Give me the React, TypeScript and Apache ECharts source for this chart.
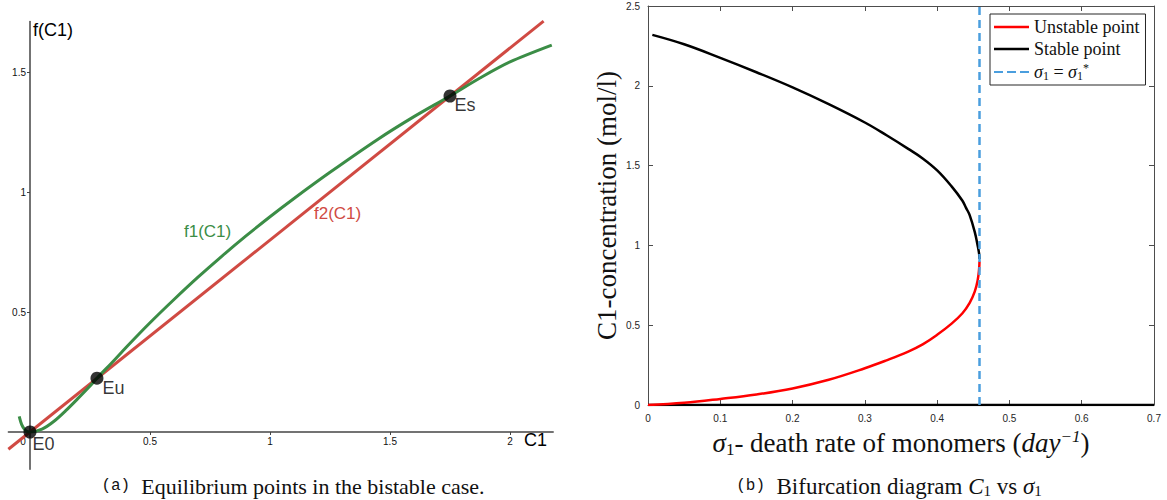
import React, { useEffect, useRef } from "react";
import * as echarts from "echarts";

// ---------- Panel (a): equilibrium points ----------
const f1Curve: [number, number][] = [
  [-0.045, 0.065], [-0.035, 0.032], [-0.022, 0.01], [-0.01, 0.001], [0, 0],
  [0.05, 0.012], [0.1, 0.045], [0.15, 0.09], [0.2, 0.14], [0.25, 0.192],
  [0.279, 0.224], [0.35, 0.298], [0.4, 0.352], [0.5, 0.455], [0.6, 0.552],
  [0.7, 0.645], [0.8, 0.733], [0.9, 0.817], [1.0, 0.897], [1.1, 0.973],
  [1.25, 1.082], [1.45, 1.22], [1.6, 1.314], [1.75, 1.4], [1.875, 1.475],
  [2.0, 1.542], [2.174, 1.612],
];
const f2Line: [number, number][] = [[-0.09, -0.072], [2.14, 1.712]];
const equilibria: { name: string; value: [number, number] }[] = [
  { name: "E0", value: [0, 0] },
  { name: "Eu", value: [0.279, 0.224] },
  { name: "Es", value: [1.75, 1.4] },
];
const aXTicks = [0.5, 1, 1.5, 2];
const aXLabels = [0, 0.5, 1, 1.5, 2];
const aYTicks = [0.5, 1, 1.5];

// ---------- Panel (b): bifurcation diagram ----------
const stablePoint: [number, number][] = [
  [0.006, 2.319], [0.05, 2.26], [0.1, 2.175], [0.15, 2.085], [0.2, 1.99],
  [0.25, 1.885], [0.3, 1.77], [0.33, 1.69], [0.36, 1.605], [0.38, 1.545],
  [0.4, 1.47], [0.42, 1.37], [0.435, 1.28], [0.44, 1.235], [0.445, 1.19],
  [0.452, 1.085], [0.456, 1.0], [0.458, 0.95], [0.4586, 0.915],
];
const stableZero: [number, number][] = [[0, 0], [0.7, 0]];
const unstablePoint: [number, number][] = [
  [0, 0], [0.05, 0.014], [0.1, 0.038], [0.15, 0.066], [0.2, 0.104],
  [0.25, 0.158], [0.3, 0.23], [0.33, 0.28], [0.36, 0.335], [0.38, 0.38],
  [0.4, 0.44], [0.42, 0.51], [0.435, 0.575], [0.445, 0.64], [0.452, 0.71],
  [0.456, 0.78], [0.458, 0.85], [0.4586, 0.9],
];
const sigmaStar = 0.4586;
const sigmaLine: [number, number][] = [[sigmaStar, 0], [sigmaStar, 2.5]];

const SERIF = "'Liberation Serif', 'DejaVu Serif', serif";
const SANS = "'Liberation Sans', Arial, sans-serif";
const MONO = "'Liberation Mono', 'DejaVu Sans Mono', monospace";
const GREEN = "#3b8d46";
const RED_A = "#d04a43";
const BLUE = "#4a9ede";

export default function App() {
  const ref = useRef<HTMLDivElement>(null);
  useEffect(() => {
    document.body.style.margin = "0";
    if (!ref.current) return;
    const chart = echarts.init(ref.current, undefined, { renderer: "svg" });
    const axisGrayB = "#4d4d4d";
    const labelB = { color: "#262626", fontFamily: SANS, fontSize: 10 };
    const NS = 27;
    const serifRich = {
      i: { fontFamily: SERIF, fontStyle: "italic", fontSize: NS, color: "#111" },
      sub: { fontFamily: SERIF, fontSize: 17, color: "#111", padding: [12, 0, 0, 0] },
      sup: { fontFamily: SERIF, fontStyle: "italic", fontSize: 17, color: "#111", padding: [0, 0, 14, 0] },
      n: { fontFamily: SERIF, fontSize: NS, color: "#111" },
    };
    const aTickStyle = { color: "#444", width: 1 };
    const option: any = {
      animation: false,
      backgroundColor: "#ffffff",
      grid: [
        // panel (a) full extent: axis lines crossing at zero
        { left: 8.4, top: 21.6, width: 544.8, height: 447.6, outerBoundsMode: "none", containLabel: false },
        // panel (b)
        { left: 648, top: 6, width: 506, height: 399, outerBoundsMode: "none", containLabel: false },
        // panel (a) positive quadrant: ticks and tick labels along the zero lines
        { left: 30, top: 21.6, width: 523.2, height: 410.4, outerBoundsMode: "none", containLabel: false },
      ],
      xAxis: [
        {
          type: "value", gridIndex: 0, min: -0.09, max: 2.18,
          axisLine: { onZero: true, lineStyle: { color: "#444", width: 1.5 } },
          axisTick: { show: false }, axisLabel: { show: false }, splitLine: { show: false },
        },
        {
          type: "value", gridIndex: 1, min: 0, max: 0.7, interval: 0.1,
          axisLine: { onZero: false, lineStyle: { color: axisGrayB, width: 1 } },
          axisTick: { inside: true, length: 5, lineStyle: { color: axisGrayB } },
          axisLabel: { ...labelB, margin: 8, formatter: (v: number) => (v === 0 ? "0" : v.toFixed(1)) },
          splitLine: { show: false },
          name: "{i|σ}{sub|1}{n|- death rate of monomers (}{i|day}{sup|−1}{n|)}",
          nameLocation: "middle", nameGap: 22,
          nameTextStyle: { rich: serifRich },
        },
        {
          type: "value", gridIndex: 1, min: 0, max: 0.7, interval: 0.1, position: "top",
          axisLine: { onZero: false, lineStyle: { color: axisGrayB, width: 1 } },
          axisTick: { inside: true, length: 5, lineStyle: { color: axisGrayB } },
          axisLabel: { show: false }, splitLine: { show: false },
        },
        {
          type: "value", gridIndex: 2, min: 0, max: 2.18, position: "bottom",
          axisLine: { show: false, onZero: false },
          axisTick: { show: true, inside: false, length: 3, customValues: aXTicks, lineStyle: aTickStyle },
          axisLabel: {
            customValues: aXLabels, margin: 4, fontSize: 10, color: "#111", fontFamily: SANS,
            formatter: (v: number) => (v === 0 ? "{z|0}" : String(v)),
            rich: { z: { fontSize: 10, fontFamily: SANS, color: "#111", padding: [0, 14, 0, 0] } },
          },
          splitLine: { show: false },
        },
      ],
      yAxis: [
        {
          type: "value", gridIndex: 0, min: -0.155, max: 1.71,
          axisLine: { onZero: true, lineStyle: { color: "#444", width: 1.5 } },
          axisTick: { show: false }, axisLabel: { show: false }, splitLine: { show: false },
        },
        {
          type: "value", gridIndex: 1, min: 0, max: 2.5, interval: 0.5,
          axisLine: { onZero: false, lineStyle: { color: axisGrayB, width: 1 } },
          axisTick: { inside: true, length: 5, lineStyle: { color: axisGrayB } },
          axisLabel: { ...labelB, margin: 8 },
          splitLine: { show: false },
          name: "C1-concentration (mol/l)",
          nameLocation: "middle", nameGap: 28,
          nameTextStyle: { fontFamily: SERIF, fontSize: NS, color: "#111" },
        },
        {
          type: "value", gridIndex: 1, min: 0, max: 2.5, interval: 0.5, position: "right",
          axisLine: { onZero: false, lineStyle: { color: axisGrayB, width: 1 } },
          axisTick: { inside: true, length: 5, lineStyle: { color: axisGrayB } },
          axisLabel: { show: false }, splitLine: { show: false },
        },
        {
          type: "value", gridIndex: 2, min: 0, max: 1.71, position: "left",
          axisLine: { show: false, onZero: false },
          axisTick: { show: true, inside: false, length: 3, customValues: aYTicks, lineStyle: aTickStyle },
          axisLabel: { customValues: aYTicks, margin: 4, fontSize: 10, color: "#111", fontFamily: SANS },
          splitLine: { show: false },
        },
      ],
      legend: {
        data: [
          { name: "Unstable point", icon: "rect" },
          { name: "Stable point", icon: "rect" },
          { name: "sigmaStar", icon: "path://M0 0h9v2h-9zM13 0h9v2h-9zM26 0h9v2h-9z" },
        ],
        orient: "vertical",
        left: 990, top: 14,
        padding: [4, 6, 3, 4],
        itemGap: 4,
        itemWidth: 35, itemHeight: 2.5,
        backgroundColor: "#fff",
        borderColor: "#262626", borderWidth: 1, borderRadius: 0,
        textStyle: {
          fontFamily: SERIF, fontSize: 18, color: "#111", lineHeight: 17,
          rich: {
            i: { fontFamily: SERIF, fontStyle: "italic", fontSize: 18, color: "#111" },
            sub: { fontFamily: SERIF, fontSize: 12, color: "#111", padding: [8, 0, 0, 0] },
            sup: { fontFamily: SERIF, fontSize: 12, color: "#111", padding: [0, 0, 8, 0] },
            n: { fontFamily: SERIF, fontSize: 18, color: "#111" },
          },
        },
        formatter: (name: string) =>
          name === "sigmaStar" ? "{i|σ}{sub|1}{n| = }{i|σ}{sub|1}{sup|*}" : name,
      },
      series: [
        {
          name: "f2(C1)", type: "line", xAxisIndex: 0, yAxisIndex: 0, data: f2Line,
          symbol: "none", clip: false, lineStyle: { color: RED_A, width: 3 }, z: 3,
        },
        {
          name: "f1(C1)", type: "line", xAxisIndex: 0, yAxisIndex: 0, data: f1Curve,
          symbol: "none", smooth: 0.3, clip: false, lineStyle: { color: GREEN, width: 3 }, z: 4,
        },
        {
          name: "equilibria", type: "scatter", xAxisIndex: 0, yAxisIndex: 0,
          data: equilibria.map((e) => ({
            name: e.name, value: e.value,
            label: {
              show: true, formatter: e.name, align: "left", verticalAlign: "top",
              position: e.name === "E0" ? [9, 9] : e.name === "Eu" ? [12, 7] : [11, 6],
              fontFamily: SANS, fontSize: 18, color: "#000",
            },
          })),
          symbol: "circle", symbolSize: 13, itemStyle: { color: "#000" }, z: 6,
        },
        {
          name: "Stable point", type: "line", xAxisIndex: 1, yAxisIndex: 1, data: stableZero,
          symbol: "none", lineStyle: { color: "#000", width: 2.5 }, itemStyle: { color: "#000" }, z: 3,
        },
        {
          name: "Stable point", type: "line", xAxisIndex: 1, yAxisIndex: 1, data: stablePoint,
          symbol: "none", smooth: 0.4, lineStyle: { color: "#000", width: 2.5 }, itemStyle: { color: "#000" }, z: 3,
        },
        {
          name: "Unstable point", type: "line", xAxisIndex: 1, yAxisIndex: 1, data: unstablePoint,
          symbol: "none", smooth: 0.4, lineStyle: { color: "#ff0000", width: 2.5 }, itemStyle: { color: "#ff0000" }, z: 4,
        },
        {
          name: "sigmaStar", type: "line", xAxisIndex: 1, yAxisIndex: 1, data: sigmaLine,
          symbol: "none", lineStyle: { color: BLUE, width: 2.5, type: [8, 5] }, itemStyle: { color: BLUE }, z: 5,
        },
      ],
      graphic: [
        { type: "text", left: 33, top: 21, style: { text: "f(C1)", fontFamily: SANS, fontSize: 18, fill: "#000" } },
        { type: "text", left: 524, top: 431, style: { text: "C1", fontFamily: SANS, fontSize: 18, fill: "#000" } },
        { type: "text", left: 184, top: 223, style: { text: "f1(C1)", fontFamily: SANS, fontSize: 17, fill: GREEN } },
        { type: "text", left: 314, top: 205, style: { text: "f2(C1)", fontFamily: SANS, fontSize: 17, fill: RED_A } },
        {
          type: "text", x: 293, y: 486,
          style: {
            text: "{m|(a)}{n|  Equilibrium points in the bistable case.}",
            align: "center", verticalAlign: "middle",
            rich: {
              m: { fontFamily: MONO, fontSize: 16, fill: "#111" },
              n: { fontFamily: SERIF, fontSize: 22, fill: "#111" },
            },
          },
        },
        {
          type: "text", x: 889, y: 486,
          style: {
            text: "{m|(b)}{n|  Bifurcation diagram }{i|C}{s|1}{n| vs }{i|σ}{s|1}",
            align: "center", verticalAlign: "middle",
            rich: {
              m: { fontFamily: MONO, fontSize: 16, fill: "#111" },
              n: { fontFamily: SERIF, fontSize: 23, fill: "#111" },
              i: { fontFamily: SERIF, fontStyle: "italic", fontSize: 23, fill: "#111" },
              s: { fontFamily: SERIF, fontSize: 15, fill: "#111", padding: [9, 0, 0, 0] },
            },
          },
        },
      ],
    };
    chart.setOption(option);
    return () => chart.dispose();
  }, []);
  return <div ref={ref} style={{ width: 1167, height: 500 }} />;
}
